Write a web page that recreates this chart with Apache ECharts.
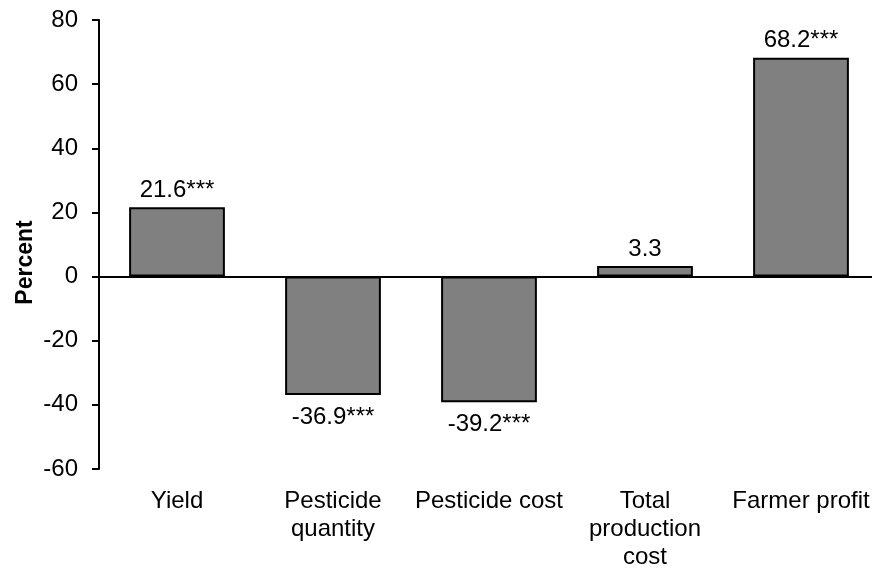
<!DOCTYPE html>
<html>
<head>
<meta charset="utf-8">
<script src="https://cdn.jsdelivr.net/npm/echarts@6/dist/echarts.min.js"></script>
<style>html,body{margin:0;padding:0;background:#fff;overflow:hidden;width:872px;height:571px}#c{width:879px;height:571px}</style>
</head>
<body>
<div id="c"></div>
<script>
const categories = ['Yield', 'Pesticide\nquantity', 'Pesticide cost', 'Total\nproduction\ncost', 'Farmer profit'];
const values = [21.6, -36.9, -39.2, 3.3, 68.2];
const significance = ['***', '***', '***', '', '***'];
const yTicks = { min: -60, max: 80, interval: 20 };

const font = 'Liberation Sans, Arial, sans-serif';
const chart = echarts.init(document.getElementById('c'));
const seriesData = values.map((v, i) => ({
  value: v,
  label: { position: v < 0 ? 'bottom' : 'top', distance: v < 0 ? 10 : 5 }
}));
chart.setOption({
  animation: false,
  grid: { left: 99, top: 20, bottom: 98, right: 0 },
  xAxis: {
    type: 'category',
    data: categories,
    axisLine: { show: false, onZero: false },
    axisTick: { show: false },
    axisLabel: { color: '#000', fontSize: 24, fontFamily: font, margin: 18, lineHeight: 28, interval: 0 }
  },
  yAxis: {
    type: 'value',
    min: yTicks.min, max: yTicks.max, interval: yTicks.interval,
    name: 'Percent',
    nameLocation: 'middle',
    nameMoveOverlap: false,
    nameGap: 62,
    nameTextStyle: { color: '#000', fontSize: 23, fontWeight: 'bold', fontFamily: font, padding: [0, 36, 0, 0] },
    axisLine: { show: true, lineStyle: { color: '#000', width: 2 } },
    axisTick: { show: true, inside: false, length: 7, lineStyle: { color: '#000', width: 2 } },
    axisLabel: { color: '#000', fontSize: 24, fontFamily: font, margin: 21 },
    splitLine: { show: false }
  },
  series: [{
    type: 'bar',
    data: seriesData,
    barWidth: '61.4%',
    itemStyle: { color: '#808080', borderColor: '#000', borderWidth: 2 },
    label: {
      show: true,
      color: '#000', fontSize: 24, fontFamily: font,
      formatter: p => p.value + significance[p.dataIndex]
    },
    markLine: {
      silent: true,
      symbol: 'none',
      label: { show: false },
      lineStyle: { color: '#000', width: 2, type: 'solid' },
      data: [{ yAxis: 0 }]
    }
  }]
});
</script>
</body>
</html>
